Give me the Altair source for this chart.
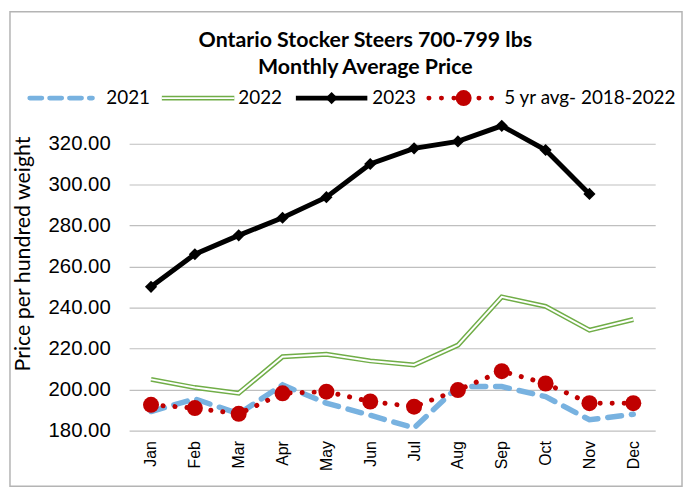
import altair as alt
import pandas as pd

months = ["Jan", "Feb", "Mar", "Apr", "May", "Jun", "Jul", "Aug", "Sep", "Oct", "Nov", "Dec"]
v2021 = [189.3, 195.5, 188.2, 202.3, 193.4, 187.5, 181.3, 201.5, 201.5, 196.6, 185.3, 188.0]
v2022 = [205.0, 201.0, 198.3, 216.0, 217.2, 214.0, 212.0, 221.7, 245.2, 240.6, 229.0, 234.2]
v2023 = [250.1, 266.0, 275.2, 283.8, 293.8, 310.0, 317.6, 321.0, 328.6, 316.8, 295.4]
avg5 = [192.6, 191.0, 188.2, 198.2, 199.0, 194.2, 191.7, 199.8, 209.0, 203.0, 193.4, 193.4]
y_ticks = [180, 200, 220, 240, 260, 280, 300, 320]

title_lines = ["Ontario Stocker Steers 700-799 lbs", "Monthly Average Price"]
series_names = ["2021", "2022", "2023", "5 yr avg- 2018-2022"]
y_title = "Price per hundred weight"

FONT = "Lato"
TICKFONT = "Liberation Sans"
BLUE = "#78b2e0"
GREEN = "#70ad47"
RED = "#c00000"

def frame(vals, name):
    return pd.DataFrame({"month": months[:len(vals)], "value": vals, "series": name})

d21 = frame(v2021, "2021")
d22 = frame(v2022, "2022")
d23 = frame(v2023, "2023")
dav = frame(avg5, "avg")

xenc = alt.X("month:N", sort=months,
             scale=alt.Scale(type="point", padding=0.5),
             axis=alt.Axis(title=None, labelAngle=270, labelFontSize=16, labelFont=TICKFONT,
                           labelColor="black", ticks=False, domain=False, labelPadding=10,
                           labelAlign="right", labelBaseline="middle"))
yenc = alt.Y("value:Q",
             scale=alt.Scale(domain=[180, 330], nice=False, zero=False),
             axis=alt.Axis(title=None, values=y_ticks, format=".2f", grid=True,
                           gridColor="#bfbfbf", gridWidth=1.2, domain=False, ticks=False,
                           labelFontSize=20.5, labelFont=TICKFONT, labelColor="black",
                           labelPadding=19))

l22a = alt.Chart(d22).mark_line(color=GREEN, strokeWidth=5).encode(x=xenc, y=yenc)
l22b = alt.Chart(d22).mark_line(color="white", strokeWidth=2).encode(x=xenc, y=yenc)
l21 = alt.Chart(d21).mark_line(color=BLUE, strokeWidth=5.5, strokeDash=[14, 10],
                               strokeCap="round").encode(x=xenc, y=yenc)
lav = alt.Chart(dav).mark_line(color=RED, strokeWidth=5, strokeDash=[0.1, 12],
                               strokeCap="round").encode(x=xenc, y=yenc)
pav = alt.Chart(dav).mark_point(color=RED, filled=True, opacity=1, size=260,
                                shape="circle").encode(x=xenc, y=yenc)
l23 = alt.Chart(d23).mark_line(color="black", strokeWidth=5).encode(x=xenc, y=yenc)
p23 = alt.Chart(d23).mark_point(color="black", filled=True, opacity=1, size=150,
                                shape="diamond").encode(x=xenc, y=yenc)

one = pd.DataFrame({"k": [0]})

def txt(s, x, y, size=19, bold=False, align="left", angle=0):
    kw = dict(text=s, font=FONT, fontSize=size, color="black", align=align,
              baseline="middle", fontWeight="bold" if bold else "normal")
    if angle:
        kw["angle"] = angle
    return alt.Chart(one).mark_text(**kw).encode(x=alt.value(x), y=alt.value(y))

def rule(x1, x2, y, **kw):
    return alt.Chart(one).mark_rule(**kw).encode(x=alt.value(x1), x2=alt.value(x2), y=alt.value(y))

LY = -25
extras = [
    # border
    alt.Chart(one).mark_rect(fill=None, stroke="#b4b4b4", strokeWidth=1.5).encode(
        x=alt.value(-120), x2=alt.value(557), y=alt.value(-112), y2=alt.value(366)),
    txt(title_lines[0], 238, -82, size=21.5, bold=True, align="center"),
    txt(title_lines[1], 238, -55, size=21.5, bold=True, align="center"),
    txt(y_title, -106, 132, size=21.5, align="center", angle=270),
    # legend
    rule(-100, -37, LY, color=BLUE, strokeWidth=5, strokeDash=[12, 8], strokeCap="round"),
    txt(series_names[0], -23, LY),
    rule(33, 106, LY, color=GREEN, strokeWidth=5),
    rule(33, 106, LY, color="white", strokeWidth=2),
    txt(series_names[1], 110, LY),
    rule(168, 240, LY, color="black", strokeWidth=5),
    alt.Chart(one).mark_point(color="black", filled=True, opacity=1, size=150, shape="diamond").encode(
        x=alt.value(204), y=alt.value(LY)),
    txt(series_names[2], 245, LY),
    rule(302, 367, LY, color=RED, strokeWidth=5, strokeDash=[0.1, 12.5], strokeCap="round"),
    alt.Chart(one).mark_point(color=RED, filled=True, opacity=1, size=260, shape="circle").encode(
        x=alt.value(337), y=alt.value(LY)),
    txt(series_names[3], 378, LY),
]

chart = alt.layer(l22a, l22b, l21, lav, pav, l23, p23, *extras).properties(
    width=530, height=310,
    autosize=alt.AutoSizeParams(type="none"),
    padding={"left": 122, "top": 114, "right": 28, "bottom": 58},
    background="white",
).configure_view(stroke=None)

chart.save("out.html", embed_options={"renderer": "svg", "actions": False})
